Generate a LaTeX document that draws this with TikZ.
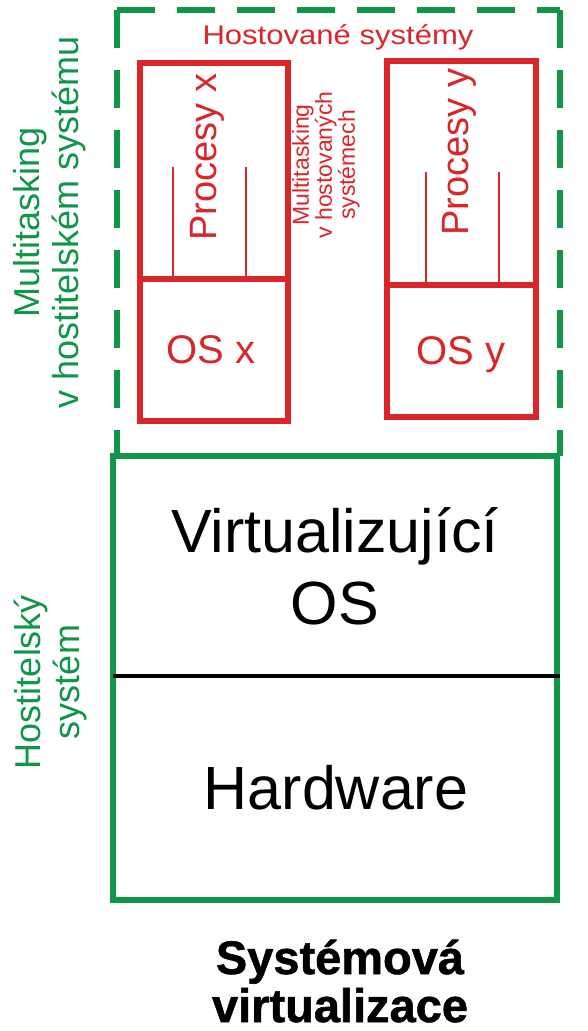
\documentclass[tikz,border=0pt]{standalone}
\usepackage{fontspec}
\setmainfont{Liberation Sans}
\newfontfamily\titlefont[FakeBold=1.2]{Liberation Sans Bold}
\usetikzlibrary{fit}
\definecolor{hred}{RGB}{218,37,41}
\definecolor{hgreen}{RGB}{16,150,72}
\begin{document}
\begin{tikzpicture}[x=1pt,y=-1pt,
  redbox/.style={draw=hred, line width=6pt, inner sep=0pt},
  greenbox/.style={draw=hgreen, line width=6pt, inner sep=0pt},
  greendash/.style={draw=hgreen, line width=6pt, dash pattern=on 38pt off 22pt},
  thinred/.style={draw=hred, line width=2pt},
  redtxt/.style={text=hred, inner sep=0pt, align=center},
  greentxt/.style={text=hgreen, inner sep=0pt, align=center, font=\fontsize{36}{39}\selectfont},
  blacktxt/.style={text=black, inner sep=0pt, align=center}]
\useasboundingbox (0,0) rectangle (588,1031);
\fill[white] (0,0) rectangle (588,1031);

% dashed green frame (host multitasking)
\coordinate (dtl) at (117,10);
\coordinate (dtr) at (560,10);
\coordinate (dbl) at (117,456);
\coordinate (dbr) at (560,456);
\draw[greendash] (dtl) -- (dtr);
\draw[greendash] (dtl) -- (dbl);
\draw[greendash] (dtr) -- (dbr);

% host system box
\node[greenbox, fit={(113,456) (557,900)}] (host) {};
\coordinate (divl) at (113,676);
\draw[line width=4pt, black] (divl) -- (divl -| host.east);

% guest x
\node[redbox, fit={(140,63) (288,279)}] (procx) {};
\node[redbox, fit={(140,279) (288,421)}] (osx) {};
\coordinate (px1) at (173,167);
\coordinate (px2) at (246,167);
\draw[thinred] (px1) -- (px1 |- procx.south);
\draw[thinred] (px2) -- (px2 |- procx.south);

% guest y
\node[redbox, fit={(387,61) (536,285)}] (procy) {};
\node[redbox, fit={(387,285) (536,417)}] (osy) {};
\coordinate (py1) at (426,172);
\coordinate (py2) at (499,172);
\draw[thinred] (py1) -- (py1 |- procy.south);
\draw[thinred] (py2) -- (py2 |- procy.south);

% red labels
\node[redtxt, font=\fontsize{27}{30}\selectfont] (hosted) at (338,37) {\scalebox{1.15}[1]{Hostované systémy}};
\node[redtxt, rotate=90, font=\fontsize{38}{40}\selectfont] (lprocx) at (207,157) {Procesy x};
\node[redtxt, rotate=90, font=\fontsize{38}{40}\selectfont] (lprocy) at (459,152) {Procesy y};
\node[redtxt, font=\fontsize{40}{42}\selectfont] (losx) at (211,350) {OS x};
\node[redtxt, font=\fontsize{40}{42}\selectfont] (losy) at (461,355) {OS y};
\node[redtxt, rotate=90, font=\fontsize{23}{23}\selectfont] (lmguest) at (326,165) {Multitasking\\v hostovaných\\systémech};

% green labels
\node[greentxt, rotate=90] (lmhost) at (50,222) {Multitasking\\v hostitelském systému};
\node[greentxt, rotate=90] (lhostsys) at (50,682) {Hostitelský\\systém};

% black labels
\node[blacktxt, font=\fontsize{61}{72}\selectfont] (lvos) at (335,566) {Virtualizující\\OS};
\node[blacktxt, font=\fontsize{61}{72}\selectfont] (lhw) at (336,788) {Hardware};
\node[blacktxt, font=\titlefont\fontsize{47}{48}\selectfont, anchor=base] (ltitle) at (340,1022) {Systémová\\virtualizace};
\end{tikzpicture}
\end{document}
